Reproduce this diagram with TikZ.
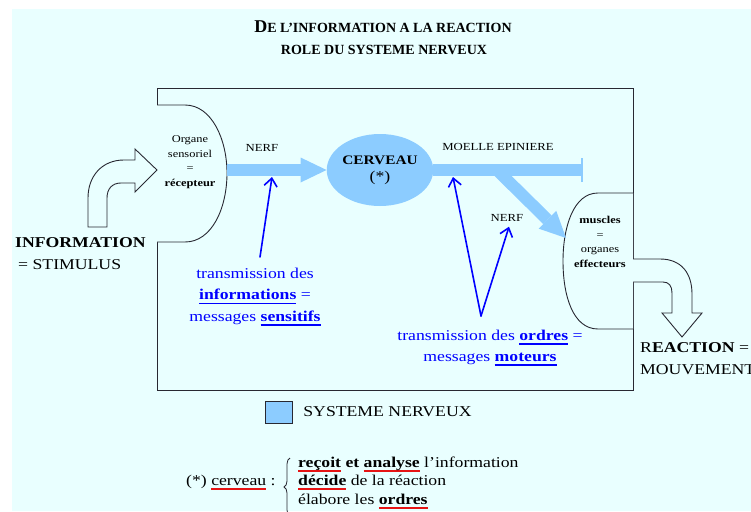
\documentclass[tikz,border=0pt]{standalone}
\usepackage{fontspec}
\setmainfont{Liberation Serif}[FakeStretch=1.18]
\newfontfamily\titlefont{Liberation Serif}
\usepackage{tikz}
\usetikzlibrary{calc, positioning, shapes.geometric, arrows.meta, decorations.pathreplacing}
\definecolor{paper}{RGB}{233,255,255}
\definecolor{nervous}{RGB}{140,204,255}
\definecolor{frame}{RGB}{40,40,50}
\definecolor{redline}{RGB}{230,20,20}
\tikzset{
titre/.style={inner sep=0pt, font=\titlefont\bfseries\fontsize{14}{16}\selectfont},
cadre/.style={draw=frame, line width=1pt},
organe/.style={draw=frame, fill=paper, line width=0.9pt},
creux/.style={draw=frame, fill=paper, line width=0.9pt, line join=miter},
nerf/.style={draw=nervous, line width=12pt, -{Triangle[length=26pt,width=25pt,line width=0pt]}},
brain/.style={ellipse, fill=nervous, minimum width=92pt, minimum height=72pt, inner sep=0pt, align=center, font=\fontsize{13}{17}\selectfont},
organtxt/.style={inner sep=0pt, align=center, font=\fontsize{10.5}{14.7}\selectfont},
petit/.style={inner sep=0pt, font=\fontsize{10.8}{13}\selectfont},
grand/.style={inner sep=0pt, font=\fontsize{15}{18}\selectfont},
bleu/.style={inner sep=0pt, align=center, text=blue, font=\fontsize{15}{21.5}\selectfont},
pointer/.style={draw=blue, line width=1.6pt, line cap=round, -{Straight Barb[length=8pt,width=13pt]}},
legende/.style={draw=frame, fill=nervous, minimum width=27pt, minimum height=22pt, inner sep=0pt},
note/.style={inner sep=0pt, anchor=base west, font=\fontsize{15}{19}\selectfont},
accolade/.style={draw=frame, line width=0.8pt, decorate, decoration={brace, amplitude=6pt}}
}
% underline with a given colour and thickness
\newcommand{\ulc}[3][1.5pt]{\setbox0\hbox{#3}\rlap{{\color{#2}\rule[-4.5pt]{\wd0}{#1}}}\box0\relax}

\begin{document}
\begin{tikzpicture}[x=1pt, y=-1pt]
  \useasboundingbox (0,0) rectangle (751,511);
  \fill[paper] (12,9) rectangle (751,511);
  \node[titre] (titre1) at (383,27) {{\fontsize{18}{20}\selectfont D}E L’INFORMATION A LA REACTION};
  \node[titre] (titre2) at (384,50) {ROLE DU SYSTEME NERVEUX};
  % ----
  \draw[cadre] (157,88) rectangle (633,390);
  \draw[organe] (157,105) -- (185,105) .. controls (212,105) and (227,140) .. (227,173) .. controls (227,208) and (212,242) .. (185,242) -- (157,242);
  \draw[organe] (633,193) -- (598,193) .. controls (573,193) and (563,228) .. (563,261) .. controls (563,296) and (573,329) .. (598,329) -- (633,329);
  \draw[creux] (88,227) -- (88,198) .. controls (88,176) and (102,160) .. (124,160) -- (135,160) -- (135,149) -- (157,170) -- (135,192) -- (135,183) -- (121,183) .. controls (112,183) and (107,189) .. (107,198) -- (107,227) -- cycle;
  \draw[creux] (633,259) -- (660,259) .. controls (682,259) and (692,274) .. (692,294) -- (692,313) -- (702,313) -- (682,337) -- (662,313) -- (672,313) -- (672,293) .. controls (672,286) and (669,282) .. (663,282) -- (633,282);
  % ----
  \node[organtxt] (recep) at (190,162) {Organe\\sensoriel\\=\\\textbf{récepteur}};
  \node[organtxt] (effect) at (600,242) {\textbf{muscles}\\=\\organes\\\textbf{effecteurs}};
  \node[brain] (cerveau) at (380,170) {\textbf{CERVEAU}\\{\fontsize{15}{17}\selectfont(*)}};
  \coordinate (recepR) at (227,170);
  \coordinate (spineEnd) at (582,170);
  \coordinate (branch) at (497,170);
  \coordinate (effectL) at (566,238);
  \draw[nerf] (recepR) -- (cerveau.west);
  \draw[nerf, -] (cerveau.east) -- (spineEnd);
  \draw[draw=nervous, line width=1.5pt] ([yshift=-12pt]spineEnd) -- ([yshift=12pt]spineEnd);
  \draw[nerf] (branch) -- (effectL);
  % ----
  \node[petit] (nerf1) at (262,148) {NERF};
  \node[petit] (moelle) at (498,147) {MOELLE EPINIERE};
  \node[petit] (nerf2) at (507,218) {NERF};
  \node[grand, anchor=west] (info) at (15,243) {\textbf{INFORMATION}};
  \node[grand, anchor=west] (stim) at (18,265) {= STIMULUS};
  \node[grand, anchor=west] (reac) at (640,348) {R\textbf{EACTION} =};
  \node[grand, anchor=west] (mouv) at (640,370) {MOUVEMENT};
  % ----
  \node[bleu] (infotxt) at (255,297) {transmission des\\\ulc[1.8pt]{blue}{\textbf{informations}} =\\messages \ulc[1.8pt]{blue}{\textbf{sensitifs}}};
  \node[bleu] (ordtxt) at (490,348) {transmission des \ulc[1.8pt]{blue}{\textbf{ordres}} =\\messages \ulc[1.8pt]{blue}{\textbf{moteurs}}};
  \coordinate (pinf) at (272,177);
  \coordinate (pinfbas) at (260,257);
  \coordinate (vbas) at (481,316);
  \coordinate (pmoelle) at (453,177);
  \draw[pointer] (pinfbas) -- (pinf);
  \draw[pointer] (vbas) -- (pmoelle);
  \draw[pointer] (vbas) -- ([xshift=2pt,yshift=-5pt]nerf2.south);
  % ----
  \node[legende] (legbox) at (278.5,412) {};
  \node[grand, right=11pt of legbox] (legtxt) {SYSTEME NERVEUX};
  % ----
  \node[note] (brainnote) at (186,485) {(*) \ulc{redline}{cerveau} :};
  \node[note] (role1) at (298,467) {\ulc{redline}{\textbf{reçoit}} \textbf{et} \ulc{redline}{\textbf{analyse}} l’information};
  \node[note] (role2) at (298,485) {\ulc{redline}{\textbf{décide}} de la réaction};
  \node[note] (role3) at (298,504) {élabore les \ulc{redline}{\textbf{ordres}}};
  \coordinate (braceBot) at (290,516);
  \coordinate (braceTop) at (290,458);
  \draw[accolade] (braceBot) -- (braceTop);
\end{tikzpicture}
\end{document}
